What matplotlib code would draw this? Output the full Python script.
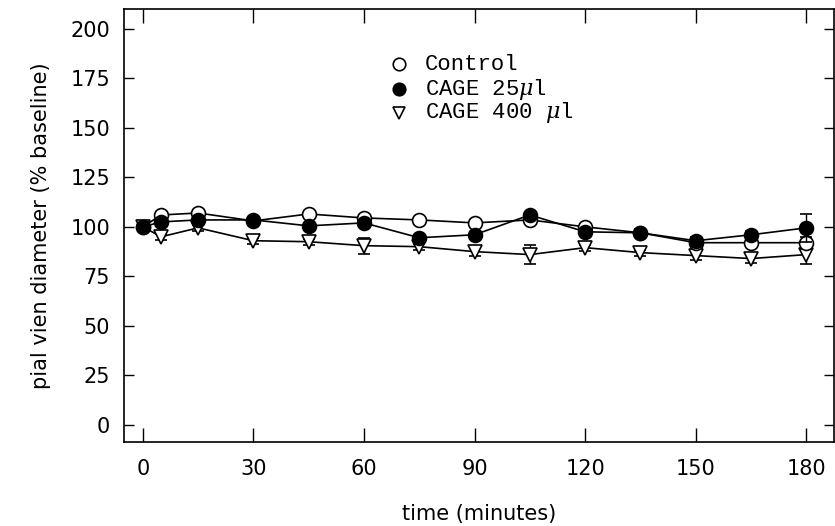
import numpy as np
import matplotlib.pyplot as plt

# time points (minutes)
time = [0, 5, 15, 30, 45, 60, 75, 90, 105, 120, 135, 150, 165, 180]

# pial vein diameter, % of baseline
control = [100, 106, 107, 103, 106.5, 104.5, 103.5, 102, 103.5, 100, 97, 92, 92, 92]
control_err = [0, 1.5, 1.5, 1.5, 1.5, 1.5, 1.5, 1.5, 2, 1.5, 1.5, 2, 2, 3]

cage25 = [100, 102.5, 103.5, 103.5, 100.5, 102, 94.5, 96, 106, 97.5, 97, 93, 96, 99.5]
cage25_err = [0, 1.5, 1.5, 1.5, 1.5, 1.5, 1.5, 1.5, 1.5, 1.5, 2, 2, 2, 7]

cage400 = [100, 95, 99.5, 93, 92.5, 90.5, 90, 87.5, 86, 89.5, 87, 85.5, 84, 86]
cage400_err = [0, 1.5, 1.5, 1.5, 1.5, 4, 1.5, 2, 5, 1.5, 1.5, 2, 2, 5]

xticks = [0, 30, 60, 90, 120, 150, 180]
yticks = [0, 25, 50, 75, 100, 125, 150, 175, 200]

plt.rcParams['font.family'] = 'DejaVu Sans'
plt.rcParams['mathtext.fontset'] = 'dejavuserif'

fig = plt.figure(figsize=(8.35, 5.26), dpi=100)
ax = fig.add_axes([0.1485, 0.1597, 0.8503, 0.8233])

style = dict(color="black", linewidth=1.2, capsize=4,
             elinewidth=1.0, capthick=1.0, markeredgewidth=1.2)

ax.errorbar(time, cage400, yerr=cage400_err, marker="v", markerfacecolor="white",
            markersize=10, zorder=2, **style)
ax.errorbar(time, control, yerr=control_err, marker="o", markerfacecolor="white",
            markersize=10, zorder=3, **style)
ax.errorbar(time, cage25, yerr=cage25_err, marker="o", markerfacecolor="black",
            markersize=10, zorder=4, **style)

ax.set_xlim(-5.1, 187.5)
ax.set_ylim(-8.6, 210)
ax.set_xticks(xticks)
ax.set_yticks(yticks)
ax.tick_params(axis="both", direction="in", top=True, right=True,
               labelsize=15, width=1.0)
ax.tick_params(axis="x", length=10, pad=12)
ax.tick_params(axis="y", length=7, pad=10)
for s in ax.spines.values():
    s.set_linewidth(1.2)

ax.set_xlabel("time (minutes)", fontsize=15, labelpad=18)
ax.set_ylabel("pial vien diameter (% baseline)", fontsize=15, labelpad=14)

# legend drawn as marker + text
leg_labels = ["Control", r"CAGE 25$\mu$l", r"CAGE 400 $\mu$l"]
leg_markers = [("o", "white"), ("o", "black"), ("v", "white")]
leg_y = [182, 169.5, 157.5]
for lab, (m, fc), yy in zip(leg_labels, leg_markers, leg_y):
    ax.plot([69.5], [yy], marker=m, markerfacecolor=fc, markeredgecolor="black",
            markersize=9, markeredgewidth=1.2, linestyle="none")
    ax.text(76.5, yy, lab, fontsize=16, family="Liberation Mono", va="center", ha="left")

fig.savefig("out.png", dpi=100)
